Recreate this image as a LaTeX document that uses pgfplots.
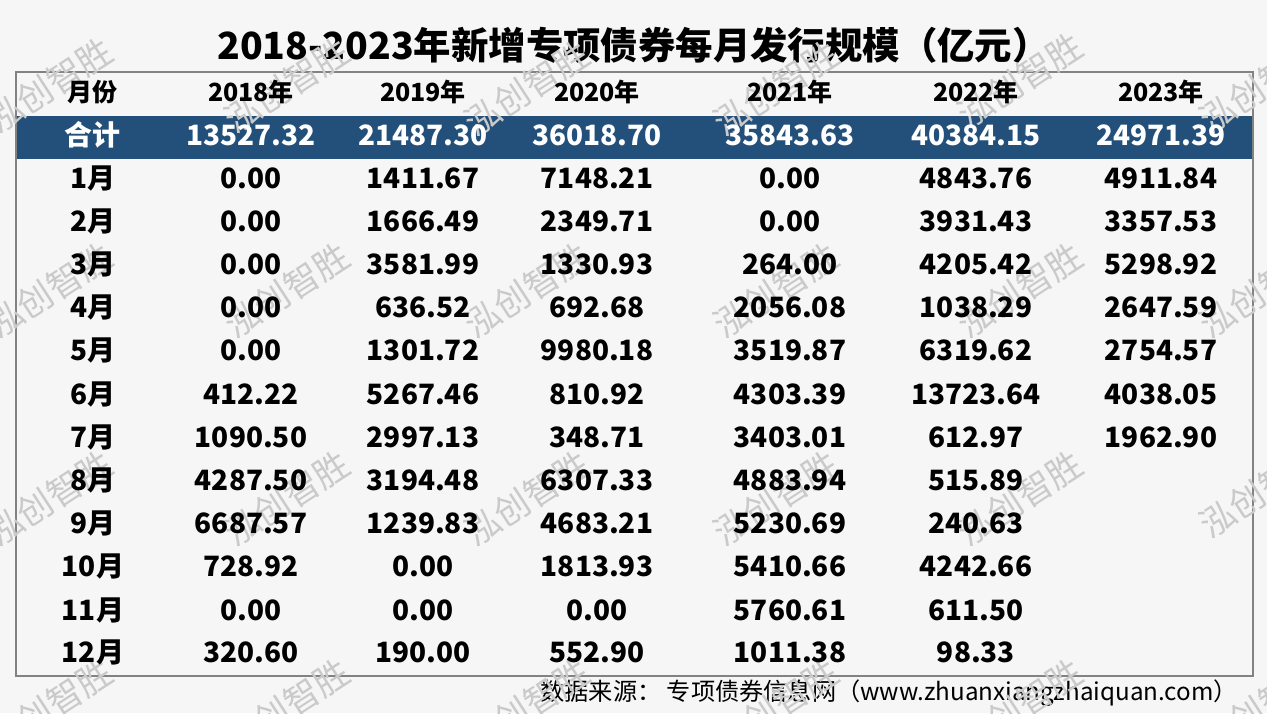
\documentclass[border=0pt]{standalone}
\usepackage{fontspec}
\setmainfont{Noto Sans CJK SC}
\usepackage{pgfplots}
\usepackage{pgfplotstable}
\pgfplotsset{compat=1.18}
\definecolor{band}{RGB}{35,80,122}
\definecolor{bg}{RGB}{246,246,246}
\definecolor{wm}{RGB}{202,202,202}
\definecolor{frame}{RGB}{130,130,130}

% y = row position (px from top), m = month, a..f = 2018..2023 (亿元)
\pgfplotstableread{
y   m     a        b        c        d        e         f
178 1月   0.00     1411.67  7148.21  0.00     4843.76   4911.84
221 2月   0.00     1666.49  2349.71  0.00     3931.43   3357.53
264 3月   0.00     3581.99  1330.93  264.00   4205.42   5298.92
307 4月   0.00     636.52   692.68   2056.08  1038.29   2647.59
350 5月   0.00     1301.72  9980.18  3519.87  6319.62   2754.57
394 6月   412.22   5267.46  810.92   4303.39  13723.64  4038.05
437 7月   1090.50  2997.13  348.71   3403.01  612.97    1962.90
480 8月   4287.50  3194.48  6307.33  4883.94  515.89    {}
523 9月   6687.57  1239.83  4683.21  5230.69  240.63    {}
566 10月  728.92   0.00     1813.93  5410.66  4242.66   {}
610 11月  0.00     0.00     0.00     5760.61  611.50    {}
652 12月  320.60   190.00   552.90   1011.38  98.33     {}
}\monthly

\pgfplotstableread{
y   m     a        b        c        d        e         f
135 合计  13527.32 21487.30 36018.70 35843.63 40384.15  24971.39
}\total

\pgfplotsset{
  celltext/.style={draw=none, mark=none, forget plot,
    nodes near coords, point meta=explicit symbolic,
    nodes near coords style={anchor=center, inner sep=0pt},
    nodes near coords align={anchor=center}},
  body/.style={celltext, nodes near coords style={font=\fontsize{14}{16}\selectfont\bfseries, text=black}},
  tot/.style={celltext, nodes near coords style={font=\fontsize{14}{16}\selectfont\bfseries, text=white}},
}

\begin{document}
\begin{tikzpicture}
\begin{axis}[at={(0,0)}, anchor=south west, scale only axis,
  width=633.5pt, height=356.5pt,
  xmin=0, xmax=1267, ymin=0, ymax=713, y dir=reverse,
  hide axis, clip=false]
\fill[bg] (0,0) rectangle (1267,713);

% watermark
\addplot[celltext, nodes near coords={泓创智胜},
  nodes near coords style={font=\fontsize{17.5}{20}\selectfont, text=wm, rotate=33}]
  coordinates {
  (50,85) (287,85) (527,88) (776,88) (1020,80) (1262,85)
  (50,290) (287,290) (527,290) (776,290) (1020,290) (1262,290)
  (50,498) (287,498) (527,498) (776,498) (1020,498) (1262,490)
  (50,706) (287,706) (527,706) (776,706) (1020,706) (1262,706)
  };

\fill[band] (16,116) rectangle (1253,159);
\draw[frame, line width=0.6pt] (16,72) rectangle (1253,676);

\node[font=\fontsize{18.7}{22}\selectfont\bfseries] at (633.5,45)
  {2018-2023年新增专项债券每月发行规模（亿元）};

% header row
\addplot[celltext, nodes near coords style={font=\fontsize{12.5}{15}\selectfont\bfseries, text=black}]
  coordinates {(93,92) [月份] (251,92) [2018年] (423,92) [2019年] (597,92) [2020年]
               (790,92) [2021年] (976,92) [2022年] (1161,92) [2023年]};

% total row
\addplot[tot] table[x expr=93,   y=y, meta=m] {\total};
\addplot[tot] table[x expr=251,  y=y, meta=a] {\total};
\addplot[tot] table[x expr=423,  y=y, meta=b] {\total};
\addplot[tot] table[x expr=597,  y=y, meta=c] {\total};
\addplot[tot] table[x expr=790,  y=y, meta=d] {\total};
\addplot[tot] table[x expr=976,  y=y, meta=e] {\total};
\addplot[tot] table[x expr=1161, y=y, meta=f] {\total};

% monthly rows
\addplot[body] table[x expr=93,   y=y, meta=m] {\monthly};
\addplot[body] table[x expr=251,  y=y, meta=a] {\monthly};
\addplot[body] table[x expr=423,  y=y, meta=b] {\monthly};
\addplot[body] table[x expr=597,  y=y, meta=c] {\monthly};
\addplot[body] table[x expr=790,  y=y, meta=d] {\monthly};
\addplot[body] table[x expr=976,  y=y, meta=e] {\monthly};
\addplot[body] table[x expr=1161, y=y, meta=f] {\monthly};

\node[anchor=east, font=\fontsize{12.1}{14}\selectfont] at (1245,693)
  {数据来源： 专项债券信息网（www.zhuanxiangzhaiquan.com）};
\end{axis}
\pgfresetboundingbox
\path[use as bounding box] (0,0) rectangle (633.5pt,356.5pt);
\end{tikzpicture}
\end{document}
